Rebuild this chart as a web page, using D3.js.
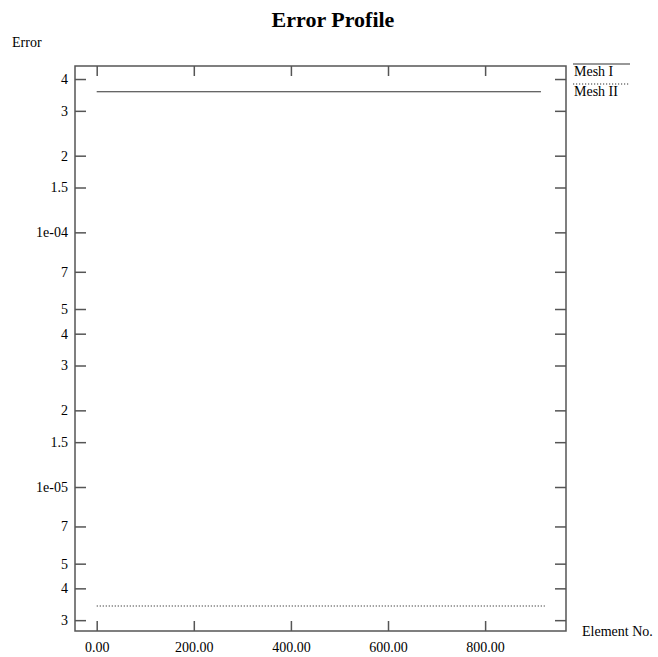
<!DOCTYPE html>
<html lang="en">
<head>
  <meta charset="UTF-8">
  <title>Error Profile</title>
  <script src="https://d3js.org/d3.v7.min.js"></script>
  <style>
    body {
      margin: 0;
      background: #fff;
      font-family: "Liberation Serif", "Times New Roman", serif;
    }
    svg { display: block; }
    .frame { fill: none; stroke: #555; stroke-width: 1.5; }
    .tick line { stroke: #555; stroke-width: 1.5; }
    .tick text { font-size: 14px; fill: #000; }
  </style>
</head>
<body>
<svg width="658" height="657"></svg>
<script>
  // series data
  const meshIElements = [0, 915];
  const meshIError = [3.565e-4, 3.565e-4];
  const meshIIElements = [0, 923];
  const meshIIError = [3.41e-6, 3.41e-6];

  // axis ticks
  const xTicks = [0, 200, 400, 600, 800];
  const yTicks = [4e-4, 3e-4, 2e-4, 1.5e-4, 1e-4, 7e-5, 5e-5, 4e-5, 3e-5, 2e-5, 1.5e-5, 1e-5, 7e-6, 5e-6, 4e-6, 3e-6];
  const yTickLabels = ["4", "3", "2", "1.5", "1e-04", "7", "5", "4", "3", "2", "1.5", "1e-05", "7", "5", "4", "3"];

  const svg = d3.select("svg");
  const plotLeft = 75, plotRight = 566, plotTop = 66, plotBottom = 631;

  const x = d3.scaleLinear().domain([-44.7, 966.6]).range([plotLeft, plotRight]);
  const y = d3.scaleLog().domain([2.72e-6, 4.5e-4]).range([plotBottom, plotTop]);

  // axes (ticks pointing inward on all four sides)
  svg.append("g")
    .attr("transform", `translate(0,${plotBottom})`)
    .call(d3.axisBottom(x).tickValues(xTicks).tickSize(-10).tickPadding(11).tickFormat(d3.format(".2f")))
    .call(g => g.select(".domain").remove());
  svg.append("g")
    .attr("transform", `translate(0,${plotTop})`)
    .call(d3.axisTop(x).tickValues(xTicks).tickSize(-10).tickFormat(""))
    .call(g => g.select(".domain").remove());
  svg.append("g")
    .attr("transform", `translate(${plotLeft},0)`)
    .call(d3.axisLeft(y).tickValues(yTicks).tickSize(-11).tickPadding(7)
      .tickFormat((d, i) => yTickLabels[i]))
    .call(g => g.select(".domain").remove());
  svg.append("g")
    .attr("transform", `translate(${plotRight},0)`)
    .call(d3.axisRight(y).tickValues(yTicks).tickSize(-11).tickFormat(""))
    .call(g => g.select(".domain").remove());

  svg.selectAll("g").attr("font-family", null).attr("font-size", null);

  svg.append("rect").attr("class", "frame")
    .attr("x", plotLeft).attr("y", plotTop)
    .attr("width", plotRight - plotLeft).attr("height", plotBottom - plotTop);

  const line = d3.line().x(d => x(d[0])).y(d => y(d[1]));

  svg.append("path")
    .datum(d3.zip(meshIElements, meshIError))
    .attr("fill", "none").attr("stroke", "#333").attr("stroke-width", 1.2)
    .attr("d", line);
  svg.append("path")
    .datum(d3.zip(meshIIElements, meshIIError))
    .attr("fill", "none").attr("stroke", "#333").attr("stroke-width", 1.2)
    .attr("stroke-dasharray", "1.2,1.8")
    .attr("d", line);

  // title and axis labels
  svg.append("text").attr("x", 333).attr("y", 27).attr("text-anchor", "middle")
    .attr("font-size", 22).attr("font-weight", "bold").text("Error Profile");
  svg.append("text").attr("x", 12).attr("y", 47).attr("font-size", 14).text("Error");
  svg.append("text").attr("x", 582).attr("y", 636).attr("font-size", 14).text("Element No.");

  // legend
  const legend = [
    { name: "Mesh I", dash: null, y: 64 },
    { name: "Mesh II", dash: "1.2,1.8", y: 84 }
  ];
  const lg = svg.append("g").selectAll("g").data(legend).join("g");
  lg.append("line")
    .attr("x1", 573).attr("x2", 630)
    .attr("y1", d => d.y).attr("y2", d => d.y)
    .attr("stroke", "#333").attr("stroke-width", 1.2)
    .attr("stroke-dasharray", d => d.dash);
  lg.append("text")
    .attr("x", 574).attr("y", d => d.y + 12)
    .attr("font-size", 14).text(d => d.name);
</script>
</body>
</html>
